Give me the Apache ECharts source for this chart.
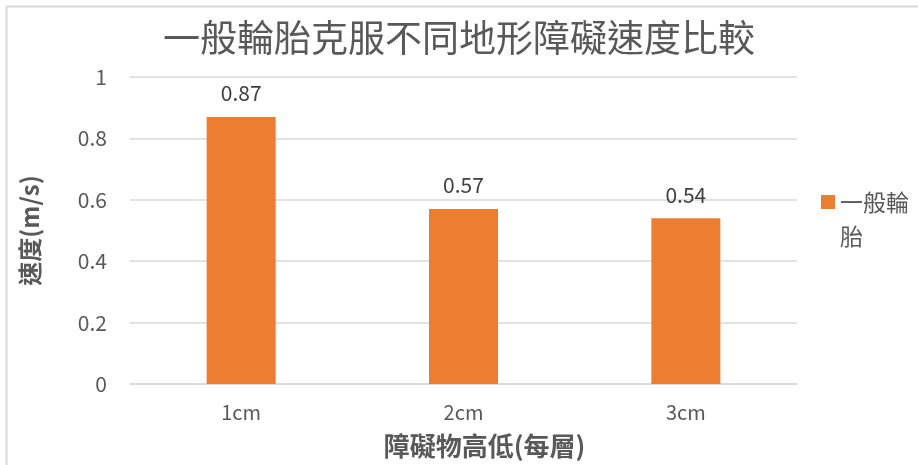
<!DOCTYPE html>
<html><head><meta charset="utf-8">
<script src="https://cdn.jsdelivr.net/npm/echarts@6/dist/echarts.min.js"></script>
<style>html,body{margin:0;padding:0;background:#fff}#c{width:918px;height:465px}</style>
</head><body><div id="c"></div>
<script>
const titleText = '一般輪胎克服不同地形障礙速度比較';
const categories = ['1cm', '2cm', '3cm'];
const seriesName = '一般輪胎';
const values = [0.87, 0.57, 0.54];
const yTicks = [0, 0.2, 0.4, 0.6, 0.8, 1];
const xName = '障礙物高低(每層)';
const yName = '速度(m/s)';

const font = '"Noto Sans CJK TC", "Noto Sans", sans-serif';
const chart = echarts.init(document.getElementById('c'), null, {renderer: 'canvas'});
chart.setOption({
  animation: false,
  textStyle: {fontFamily: font},
  title: {
    text: titleText, left: 'center', top: 14,
    textStyle: {fontSize: 37, fontWeight: 'normal', color: '#595959', fontFamily: font}
  },
  graphic: [
    {type: 'line', shape: {x1: 6.5, y1: 6, x2: 6.5, y2: 465}, style: {stroke: '#d9d9d9', lineWidth: 2}},
    {type: 'line', shape: {x1: 6, y1: 6.5, x2: 918, y2: 6.5}, style: {stroke: '#d9d9d9', lineWidth: 2}}
  ],
  legend: {
    data: [seriesName], orient: 'vertical', left: 816, top: 146,
    itemWidth: 14, itemHeight: 14, itemGap: 5, icon: 'rect',
    formatter: () => '\n一般輪\n胎',
    textStyle: {fontSize: 23, color: '#595959', lineHeight: 34, fontFamily: font}
  },
  grid: {left: 130, right: 121, top: 77, bottom: 81},
  xAxis: {
    type: 'category', data: categories,
    name: xName, nameLocation: 'middle', nameGap: 46,
    nameTextStyle: {fontSize: 26, fontWeight: 'bold', color: '#595959', fontFamily: font, padding: [3, 0, 0, 42]},
    axisLine: {lineStyle: {color: '#d9d9d9', width: 1.5}},
    axisTick: {show: false},
    axisLabel: {fontSize: 20, color: '#595959', margin: 18, fontFamily: font}
  },
  yAxis: {
    type: 'value', min: 0, max: 1, interval: 0.2,
    name: yName, nameLocation: 'middle', nameGap: 88, nameRotate: 90,
    nameTextStyle: {fontSize: 24, fontWeight: 'bold', color: '#595959', fontFamily: font},
    axisLine: {show: false}, axisTick: {show: false},
    axisLabel: {fontSize: 21, color: '#595959', margin: 23, fontFamily: font,
      formatter: v => { const t = yTicks.find(x => Math.abs(x - v) < 1e-9); return String(t !== undefined ? t : v); }},
    splitLine: {lineStyle: {color: '#d9d9d9', width: 1.5}}
  },
  series: [{
    name: seriesName, type: 'bar', data: values, barWidth: 69,
    itemStyle: {color: '#ed7d31'},
    label: {show: true, position: 'top', distance: 13, fontSize: 21, color: '#404040', fontFamily: font}
  }]
});
</script></body></html>
